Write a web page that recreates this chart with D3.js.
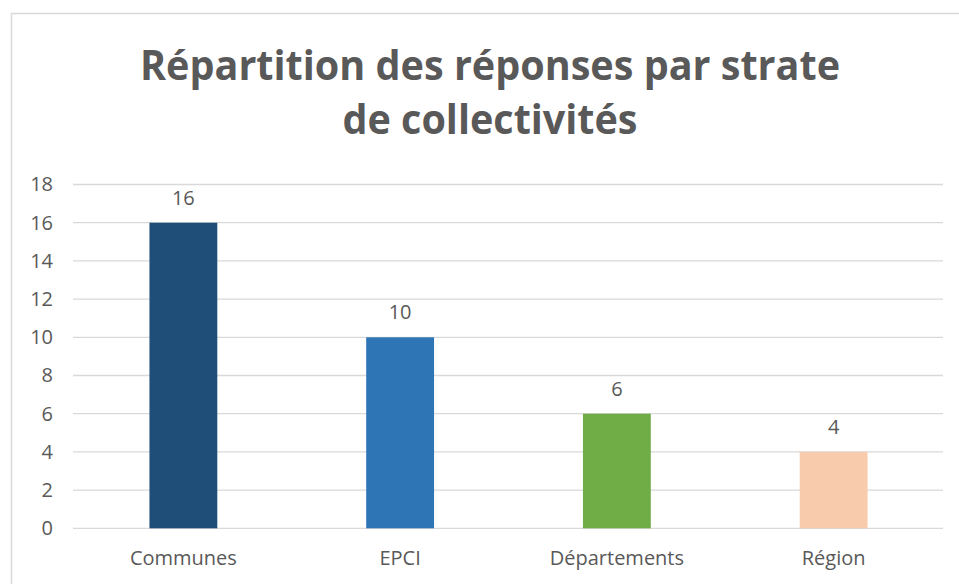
<!DOCTYPE html>
<html>
<head>
<meta charset="utf-8">
<script src="https://cdn.jsdelivr.net/npm/d3@7"></script>
<style>
  body { margin: 0; background: #fff; }
  text { font-family: "Open Sans", sans-serif; fill: #595959; }
</style>
</head>
<body>
<script>
// data
var categories = ["Communes", "EPCI", "Départements", "Région"];
var values = [16, 10, 6, 4];
var colors = ["#1f4e79", "#2e75b6", "#70ad47", "#f8cbad"];
var yTicks = [0, 2, 4, 6, 8, 10, 12, 14, 16, 18];
var titleLines = ["Répartition des réponses par strate", "de collectivités"];

var width = 959, height = 584;
var margin = {top: 184.5, right: 16, bottom: 55.7, left: 73};

var svg = d3.select("body").append("svg")
    .attr("width", width)
    .attr("height", height);

// chart frame
svg.append("rect")
    .attr("x", 11.5)
    .attr("y", 13.5)
    .attr("width", 960)
    .attr("height", 600)
    .attr("fill", "none")
    .attr("stroke", "#d9d9d9")
    .attr("stroke-width", 1.5);

// title
svg.selectAll(".title")
    .data(titleLines)
  .enter().append("text")
    .attr("class", "title")
    .attr("x", 490)
    .attr("y", function(d, i) { return 80 + i * 54; })
    .attr("text-anchor", "middle")
    .style("font-size", "41px")
    .style("font-weight", "bold")
    .attr("textLength", function(d, i) { return i == 0 ? 700 : 295; })
    .attr("lengthAdjust", "spacingAndGlyphs")
    .text(function(d) { return d; });

var x = d3.scaleBand()
    .domain(categories)
    .range([75, 942])
    .paddingInner(0.687)
    .paddingOuter(0.3435);

var y = d3.scaleLinear()
    .domain([0, 18])
    .range([height - margin.bottom, margin.top]);

// gridlines
svg.selectAll(".grid")
    .data(yTicks)
  .enter().append("line")
    .attr("x1", margin.left)
    .attr("x2", 943)
    .attr("y1", function(d) { return y(d); })
    .attr("y2", function(d) { return y(d); })
    .attr("stroke", "#d9d9d9")
    .attr("stroke-width", 1.3);

// y axis labels
var yAxis = svg.append("g")
    .attr("transform", "translate(" + (margin.left - 20) + ",0)")
    .call(d3.axisLeft(y).tickValues(yTicks).tickSize(0).tickPadding(0));
yAxis.select(".domain").remove();
yAxis.selectAll("text")
    .style("font-size", "20px")
    .style("font-family", "'Open Sans', sans-serif")
    .attr("fill", "#595959");

// x axis labels
var xAxis = svg.append("g")
    .attr("transform", "translate(0," + y(0) + ")")
    .call(d3.axisBottom(x).tickSize(0).tickPadding(23));
xAxis.select(".domain").remove();
xAxis.selectAll("text")
    .style("font-size", "20px")
    .style("font-family", "'Open Sans', sans-serif")
    .attr("fill", "#595959");

// bars
svg.selectAll(".bar")
    .data(values)
  .enter().append("rect")
    .attr("class", "bar")
    .attr("x", function(d, i) { return x(categories[i]); })
    .attr("width", x.bandwidth())
    .attr("y", function(d) { return y(d); })
    .attr("height", function(d) { return y(0) - y(d); })
    .attr("fill", function(d, i) { return colors[i]; });

// value labels
svg.selectAll(".label")
    .data(values)
  .enter().append("text")
    .attr("class", "label")
    .attr("x", function(d, i) { return x(categories[i]) + x.bandwidth() / 2; })
    .attr("y", function(d) { return y(d) - 18; })
    .attr("text-anchor", "middle")
    .style("font-size", "20px")
    .text(function(d) { return d; });
</script>
</body>
</html>
